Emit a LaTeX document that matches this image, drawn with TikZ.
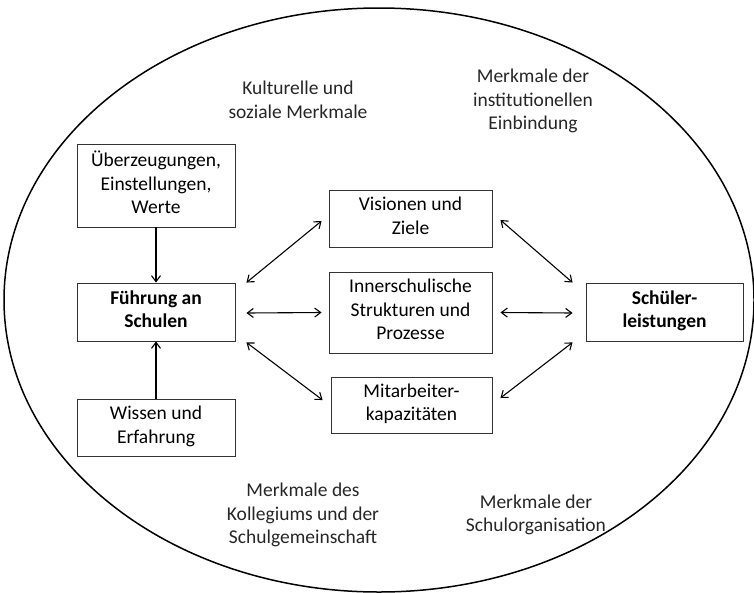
\documentclass[tikz,border=0pt]{standalone}
\usepackage{fontspec}
\setmainfont{Carlito}
\usepackage{tikz}
\usetikzlibrary{arrows.meta,calc}

\newcommand{\oben}{\rule{0pt}{18pt}}
\newcommand{\unten}{\rule[-6pt]{0pt}{6pt}}
\tikzset{
  box/.style={draw=black!80,line width=0.9pt,align=center,inner sep=0pt,
    execute at begin node=\oben,execute at end node=\unten},
  lbl/.style={align=center,inner sep=0pt,text=black!85},
  pfeil/.style={line width=1.1pt,-{Straight Barb[length=6pt,width=9pt]}},
  doppel/.style={line width=1.1pt,{Straight Barb[length=6pt,width=9pt]}-{Straight Barb[length=6pt,width=9pt]}}
}

\begin{document}
\begin{tikzpicture}[x=1pt,y=-1pt,font=\fontsize{19.5}{23.5}\selectfont]
 \useasboundingbox (0,0) rectangle (754,592);
 % Rahmen
 \draw[line width=1.5pt] (379,300) ellipse [x radius=375, y radius=292];
 % Umfeld
 \node[lbl] (kultur) at (298,100) {Kulturelle und\\soziale Merkmale};
 \node[lbl] (institution) at (533,101) {Merkmale der\\institutionellen\\Einbindung};
 \node[lbl] (kollegium) at (303,515) {Merkmale des\\Kollegiums und der\\Schulgemeinschaft};
 \node[lbl] (organisation) at (536,515) {Merkmale der\\Schulorganisation};
 % linke Spalte
 \node[box,minimum width=158,minimum height=83] (ueberz) at (156,185.5) {Überzeugungen,\\Einstellungen,\\Werte};
 \node[box,minimum width=158,minimum height=58] (fuehrung) at (156,312) {\bfseries Führung an\\\bfseries Schulen};
 \node[box,minimum width=158,minimum height=57] (wissen) at (156,427.5) {Wissen und\\Erfahrung};
 % mittlere Spalte
 \node[box,minimum width=163,minimum height=57] (visionen) at (410.5,218.5) {Visionen und\\Ziele};
 \node[box,minimum width=163,minimum height=81] (struktur) at (410.5,312.5) {Innerschulische\\Strukturen und\\Prozesse};
 \node[box,minimum width=161,minimum height=56] (mitarb) at (411.5,405) {Mitarbeiter-\\kapazitäten};
 % rechts
 \node[box,minimum width=157,minimum height=58] (schueler) at (664.5,312) {\bfseries Schüler-\\\bfseries leistungen};
 % Pfeile
 \draw[pfeil] (ueberz) -- (fuehrung);
 \draw[pfeil] (wissen) -- (fuehrung);
 \draw[doppel] ([xshift=11pt]fuehrung.north east) -- ([xshift=-7pt,yshift=-2.5pt]visionen.west);
 \draw[doppel] ([xshift=11pt,yshift=-1pt]fuehrung.east) -- ([xshift=-7pt]struktur.west);
 \draw[doppel] ([xshift=11pt,yshift=-1pt]fuehrung.south east) -- ([xshift=-8pt,yshift=5pt]mitarb.west);
 \draw[doppel] ([xshift=8pt,yshift=-1.5pt]visionen.east) -- ([xshift=-13pt]schueler.north west);
 \draw[doppel] ([xshift=8pt]struktur.east) -- ([xshift=-13pt,yshift=-1pt]schueler.west);
 \draw[doppel] ([xshift=8pt,yshift=7pt]mitarb.east) -- ([xshift=-13pt,yshift=-1pt]schueler.south west);
\end{tikzpicture}
\end{document}
